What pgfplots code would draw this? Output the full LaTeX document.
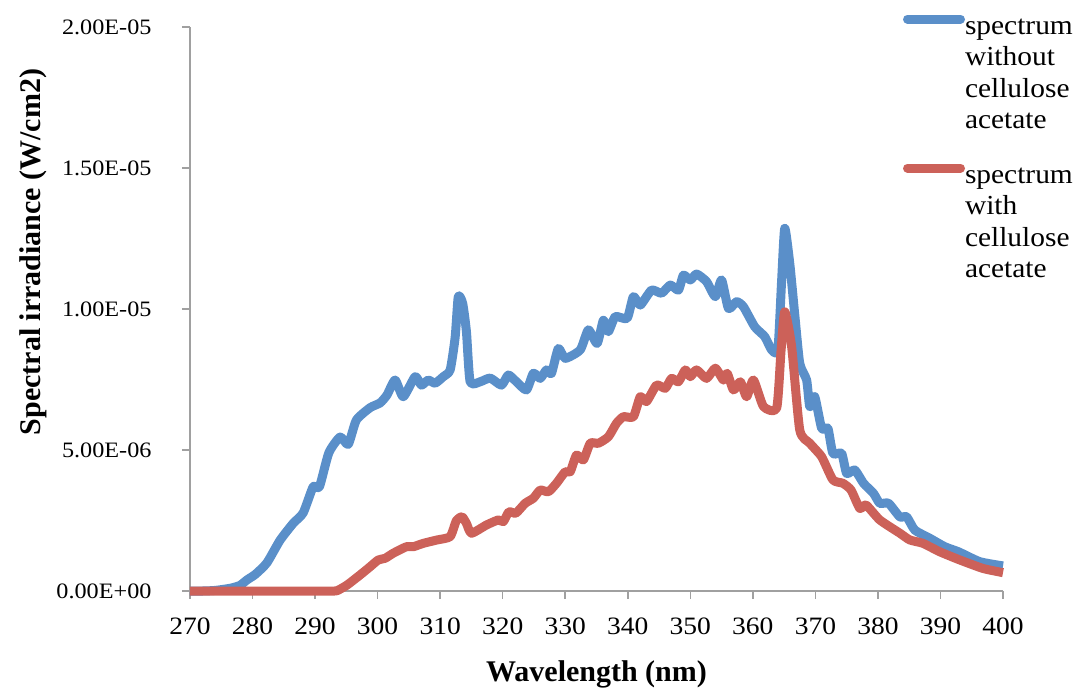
\documentclass[border=0pt]{standalone}
\usepackage{pgfplots}
\pgfplotsset{compat=1.18}
\usepackage{pgfplotstable}
\usepackage{fontspec}
\setmainfont{Liberation Serif}
\newfontfamily\widefont[FakeStretch=1.1]{Liberation Serif}
\newfontfamily\legfont[FakeStretch=1.07]{Liberation Serif}
\definecolor{sblue}{HTML}{5A8FC9}
\definecolor{sred}{HTML}{CC6159}
\definecolor{axgray}{HTML}{A0A0A0}

\pgfplotstableread{
x y
270 0
272 0
274 0.02e-6
276.5 0.1e-6
278 0.2e-6
279.1 0.39e-6
280.5 0.6e-6
282.3 1.0e-6
284.4 1.8e-6
286.5 2.4e-6
288.1 2.77e-6
289.7 3.7e-6
290.7 3.7e-6
292.2 4.9e-6
294.0 5.46e-6
295.3 5.2e-6
296.6 6.06e-6
298.8 6.5e-6
300.4 6.67e-6
301.5 6.95e-6
302.8 7.48e-6
304.1 6.89e-6
306.0 7.6e-6
307.0 7.3e-6
308.1 7.48e-6
309.2 7.37e-6
310.5 7.6e-6
311.6 7.84e-6
312.4 9.0e-6
312.9 10.44e-6
313.6 10.2e-6
314.2 9.2e-6
314.8 7.42e-6
316.4 7.42e-6
318.0 7.55e-6
319.8 7.3e-6
320.9 7.66e-6
322.2 7.42e-6
323.8 7.13e-6
324.9 7.72e-6
326.0 7.54e-6
327.0 7.84e-6
327.8 7.72e-6
328.9 8.6e-6
330.0 8.25e-6
332.4 8.55e-6
333.7 9.26e-6
335.1 8.78e-6
336.1 9.6e-6
336.9 9.2e-6
338.0 9.73e-6
339.9 9.67e-6
340.9 10.44e-6
342.0 10.14e-6
343.8 10.67e-6
345.4 10.56e-6
346.8 10.85e-6
348.1 10.67e-6
348.9 11.2e-6
350.0 11.03e-6
351.0 11.24e-6
352.6 10.97e-6
354.0 10.44e-6
355.0 11.03e-6
356.1 10.02e-6
357.4 10.26e-6
358.5 10.08e-6
360.3 9.37e-6
361.9 9.02e-6
363.0 8.55e-6
364.0 8.55e-6
364.6 11.0e-6
365.1 12.86e-6
365.9 11.62e-6
366.7 9.8e-6
367.5 8.07e-6
368.6 7.48e-6
369.1 6.54e-6
369.9 6.89e-6
371.0 5.77e-6
372.0 5.77e-6
372.8 4.88e-6
374.2 4.88e-6
375.0 4.17e-6
376.3 4.29e-6
377.7 3.82e-6
379.3 3.46e-6
380.3 3.11e-6
381.7 3.11e-6
383.5 2.63e-6
384.6 2.63e-6
385.9 2.16e-6
388.3 1.87e-6
390.7 1.57e-6
392.9 1.39e-6
396.3 1.04e-6
400 0.89e-6
}\without

\pgfplotstableread{
x y
270 0
275 0
280 0
285 0
290 0
292.5 0
293.5 0.01e-6
295.1 0.21e-6
297.2 0.57e-6
298.8 0.86e-6
300.1 1.1e-6
301.2 1.16e-6
302.5 1.34e-6
304.6 1.57e-6
305.7 1.57e-6
307.3 1.69e-6
309.5 1.81e-6
311.6 1.93e-6
312.6 2.5e-6
313.5 2.63e-6
314.2 2.4e-6
315.0 2.05e-6
317.4 2.34e-6
319.3 2.52e-6
320.1 2.46e-6
321.0 2.81e-6
322.1 2.76e-6
323.6 3.11e-6
324.9 3.29e-6
326.0 3.58e-6
327.3 3.52e-6
328.6 3.82e-6
330.0 4.23e-6
330.8 4.23e-6
331.8 4.82e-6
332.9 4.65e-6
334.0 5.24e-6
335.3 5.24e-6
336.9 5.47e-6
338.2 5.95e-6
339.3 6.18e-6
340.9 6.18e-6
342.0 6.89e-6
343.0 6.72e-6
344.6 7.3e-6
346.0 7.19e-6
347.0 7.54e-6
348.1 7.42e-6
349.2 7.84e-6
350.0 7.6e-6
351.0 7.84e-6
352.6 7.54e-6
354.0 7.9e-6
355.3 7.48e-6
355.9 7.72e-6
356.9 7.13e-6
358.0 7.42e-6
359.0 6.89e-6
360.1 7.48e-6
361.7 6.54e-6
363.8 6.48e-6
364.5 8.5e-6
365.1 9.9e-6
366.2 8.67e-6
367.5 5.71e-6
369.1 5.24e-6
371.0 4.76e-6
372.8 3.94e-6
374.4 3.82e-6
375.7 3.58e-6
377.1 2.93e-6
378.1 3.05e-6
380.3 2.52e-6
383.5 2.05e-6
385.1 1.81e-6
387.2 1.69e-6
389.9 1.39e-6
393.1 1.1e-6
396.8 0.8e-6
400 0.65e-6
}\withca

\begin{document}
\begin{tikzpicture}
\useasboundingbox (-190pt,-98pt) rectangle (888pt,591pt);
\begin{axis}[
  scale only axis,
  width=813pt, height=564pt,
  xmin=270, xmax=400, ymin=0, ymax=2e-5,
  axis x line*=bottom, axis y line*=left,
  axis line style={axgray, line width=1.5pt},
  xtick={270,280,...,400},
  ytick={0,5e-6,1e-5,1.5e-5,2e-5},
  yticklabels={0.00E+00,5.00E-06,1.00E-05,1.50E-05,2.00E-05},
  scaled y ticks=false,
  tick align=outside,
  major tick length=8pt,
  tick style={axgray, line width=1.5pt},
  /pgf/number format/assume math mode=true,
  xticklabel style={font=\widefont\fontsize{25}{28}\selectfont, yshift=-15pt},
  yticklabel style={font=\widefont\fontsize{22}{25}\selectfont, xshift=-27pt},
  xlabel={\textbf{Wavelength (nm)}},
  ylabel={\textbf{Spectral irradiance (W/cm2)}},
  label style={font=\fontsize{30}{34}\selectfont},
  xlabel style={at={(axis description cs:0.5,0)}, anchor=base, yshift=-90pt},
  ylabel style={at={([xshift=-149pt,yshift=57pt]axis description cs:0,0.5)}, anchor=base, rotate=0},
  legend style={draw=none, fill=none, inner sep=0pt, outer sep=0pt,
    at={(rel axis cs:0.877,1.022)}, anchor=north west,
    font=\legfont\fontsize{27.5}{31.5}\selectfont, row sep=128pt,
    nodes={inner sep=0pt, align=left, text width=115pt}},
  legend cell align=left,
  legend image code/.code={\draw[#1, line width=9pt, line cap=round] (4pt,8pt)--(57pt,8pt);},
  clip=false,
]
\addplot[sblue, line width=9pt, line join=round, smooth, tension=0.35] table[x=x,y=y] {\without};
\addlegendentry{spectrum\\without\\cellulose\\acetate}
\addplot[sred, line width=9pt, line join=round, smooth, tension=0.35] table[x=x,y=y] {\withca};
\addlegendentry{spectrum\\with\\cellulose\\acetate}
\end{axis}
\end{tikzpicture}
\end{document}
